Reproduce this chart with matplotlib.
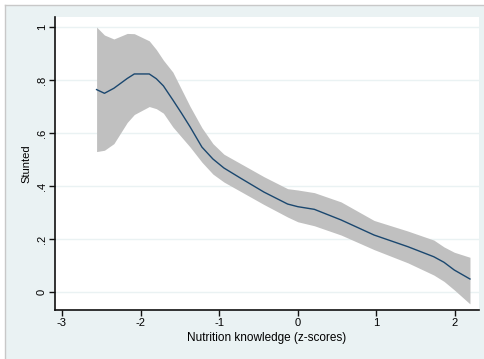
import matplotlib
matplotlib.use("Agg")
from matplotlib import pyplot as plt
from matplotlib.patches import Rectangle
from matplotlib.lines import Line2D

# smoothed estimate with 95% band
knowledge = [-2.56, -2.46, -2.34, -2.17, -2.08, -1.89, -1.80, -1.71, -1.59, -1.48, -1.37,
             -1.22, -1.08, -0.94, -0.73, -0.43, -0.13, 0.0, 0.21, 0.55, 0.97, 1.40,
             1.73, 1.86, 1.99, 2.19]
stunted = [0.764, 0.750, 0.769, 0.806, 0.823, 0.823, 0.805, 0.778, 0.725, 0.675, 0.623,
           0.547, 0.502, 0.468, 0.430, 0.377, 0.332, 0.322, 0.312, 0.272, 0.215, 0.171,
           0.133, 0.112, 0.083, 0.049]
upper = [1.000, 0.970, 0.955, 0.976, 0.975, 0.948, 0.915, 0.875, 0.830, 0.765, 0.700,
         0.620, 0.560, 0.520, 0.485, 0.435, 0.390, 0.385, 0.375, 0.340, 0.270, 0.230,
         0.196, 0.170, 0.150, 0.131]
lower = [0.530, 0.535, 0.560, 0.640, 0.670, 0.700, 0.692, 0.675, 0.623, 0.585, 0.547,
         0.490, 0.445, 0.415, 0.380, 0.330, 0.283, 0.265, 0.250, 0.215, 0.160, 0.110,
         0.064, 0.040, 0.008, -0.045]

xticks = [-3, -2, -1, 0, 1, 2]
yticks = [0, 0.2, 0.4, 0.6, 0.8, 1]
ytick_labels = ["0", ".2", ".4", ".6", ".8", "1"]

plt.rcParams["font.family"] = ["Liberation Sans", "DejaVu Sans"]
plt.rcParams["axes.unicode_minus"] = False

fig = plt.figure(figsize=(4.85, 3.59), dpi=100, facecolor="white")
x0, y1 = 5 / 485, 1 - 5 / 359
fig.add_artist(Rectangle((x0, 0), 1 - x0, y1, transform=fig.transFigure,
                         facecolor="#eaf2f3", edgecolor="none", zorder=-10))
fig.add_artist(Line2D([x0, x0], [0, y1], transform=fig.transFigure,
                      color="#c8c8c8", linewidth=1, zorder=-9))
fig.add_artist(Line2D([x0, 1], [y1, y1], transform=fig.transFigure,
                      color="#c8c8c8", linewidth=1, zorder=-9))

ax = fig.add_axes([55 / 485, 1 - 310 / 359, 424 / 485, 293 / 359])
ax.set_facecolor("white")

ax.fill_between(knowledge, lower, upper, color="#c0c0c0", linewidth=0, zorder=2)
ax.plot(knowledge, stunted, color="#1a476f", linewidth=1.0, zorder=3)

ax.set_xlim(-3.089, 2.305)
ax.set_ylim(-0.068, 1.038)
ax.set_xticks(xticks)
ax.set_yticks(yticks)
ax.set_yticklabels(ytick_labels, rotation=90, va="center")
ax.tick_params(labelsize=8, length=4, width=1, color="#111111", pad=2)
ax.grid(axis="y", color="#eaf2f3", linewidth=1, zorder=1)
ax.set_axisbelow(True)

for side in ["top", "right"]:
    ax.spines[side].set_visible(False)
for side in ["left", "bottom"]:
    ax.spines[side].set_color("#111111")
    ax.spines[side].set_linewidth(1.2)

ax.set_xlabel("Nutrition knowledge (z-scores)", fontsize=8.5, labelpad=3)
ax.set_ylabel("Stunted", fontsize=8, labelpad=4)

fig.savefig("out.png", dpi=100)
